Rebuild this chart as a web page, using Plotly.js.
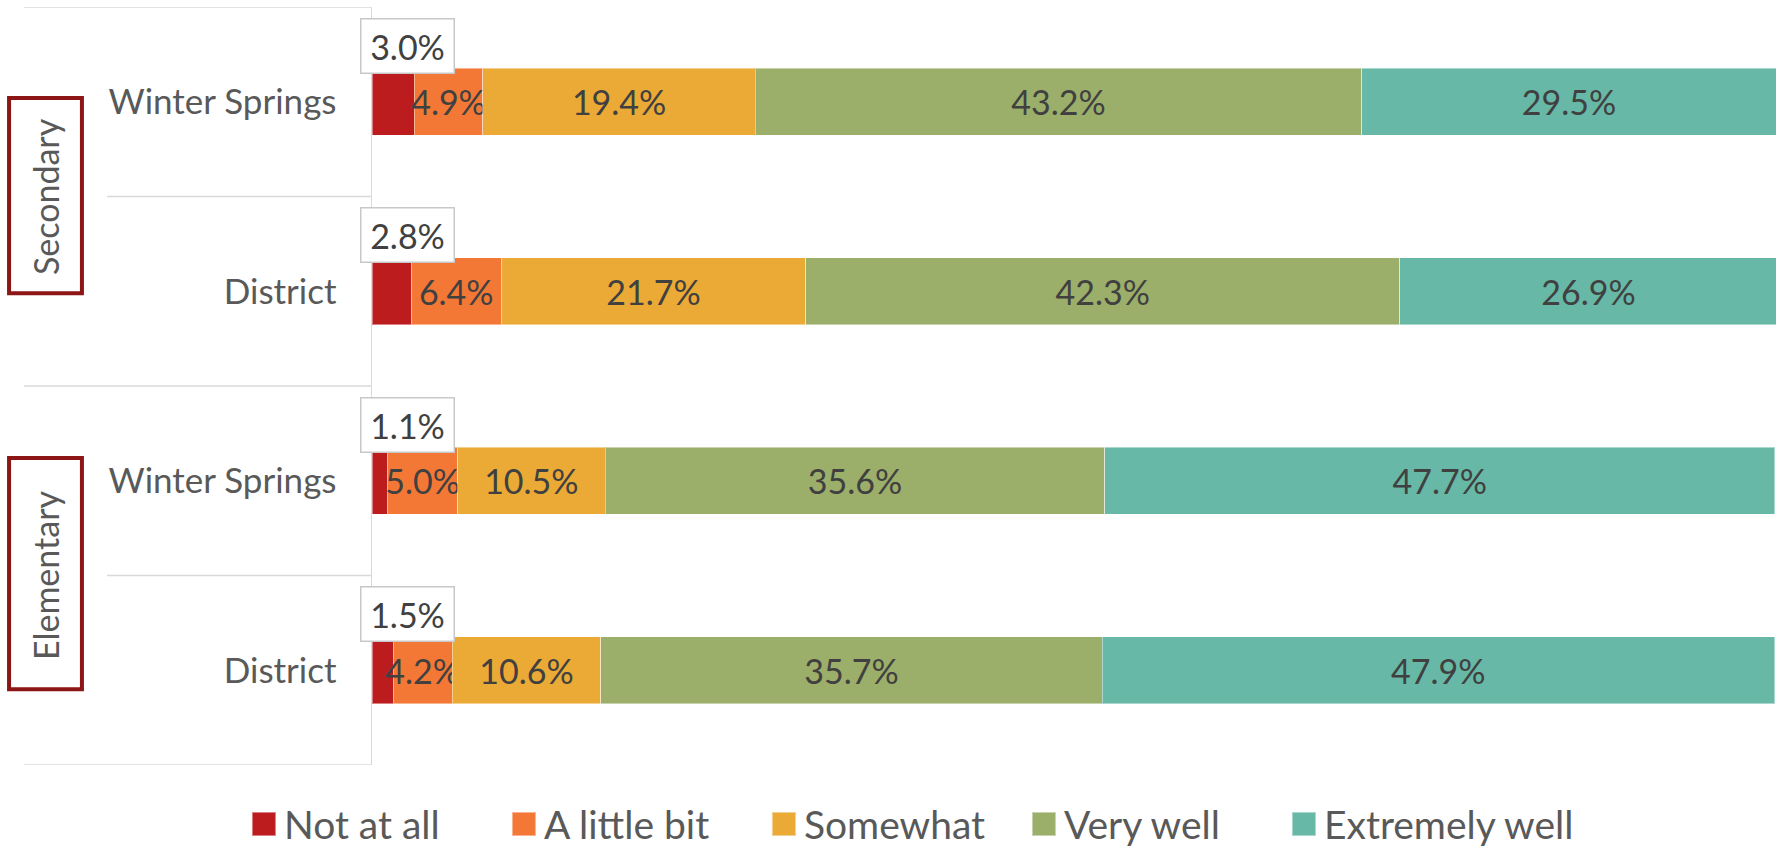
<!DOCTYPE html>
<html>
<head>
<meta charset="utf-8">
<script src="https://cdn.plot.ly/plotly-3.0.1.min.js"></script>
<style>html,body{margin:0;padding:0;background:#fff;}#chart{width:1783px;height:849px;}</style>
</head>
<body>
<div id="chart"></div>
<script>
// Rows top to bottom: Secondary Winter Springs, Secondary District, Elementary Winter Springs, Elementary District
const rowLabels = ["Winter Springs", "District", "Winter Springs", "District"];
const rowPos = [3, 2, 1, 0];
const groupLabels = ["Secondary", "Elementary"];
const groupCenters = [2.5, 0.5];

const seriesNames = ["Not at all", "A little bit", "Somewhat", "Very well", "Extremely well"];
const notAtAll = [3.0, 2.8, 1.1, 1.5];
const aLittleBit = [4.9, 6.4, 5.0, 4.2];
const somewhat = [19.4, 21.7, 10.5, 10.6];
const veryWell = [43.2, 42.3, 35.6, 35.7];
const extremelyWell = [29.5, 26.9, 47.7, 47.9];

const colors = ["#BC1C1E", "#F47835", "#EBAA35", "#9CAF6A", "#67B8A6"];
const FONT = "Lato, 'Open Sans', sans-serif";

const seriesValues = [notAtAll, aLittleBit, somewhat, veryWell, extremelyWell];
const traces = seriesValues.map((vals, i) => ({
  type: "bar",
  orientation: "h",
  name: seriesNames[i],
  x: vals,
  y: rowPos,
  marker: {color: colors[i], line: {color: "rgba(255,255,255,0.45)", width: 1}},
  texttemplate: i === 0 ? "" : "%{x:.1f}%",
  textposition: i === 0 ? "none" : "inside",
  insidetextanchor: "middle",
  textangle: 0,
  textfont: {family: FONT, size: 34, color: "#404040"},
  hoverinfo: "skip"
}));

const annotations = [];
// callout labels for the first (small) segment
notAtAll.forEach((v, i) => {
  annotations.push({
    xref: "x", yref: "y", x: 0, y: rowPos[i],
    xanchor: "left", yanchor: "middle",
    xshift: -12, yshift: 56,
    text: v.toFixed(1) + "%",
    showarrow: false,
    width: 90, height: 51,
    bgcolor: "#ffffff", bordercolor: "#c8c8c8", borderwidth: 1.5, borderpad: 1,
    font: {family: FONT, size: 34, color: "#404040"}
  });
});
// group labels (rotated)
groupLabels.forEach((g, i) => {
  annotations.push({
    xref: "paper", yref: "y", x: -0.2325, y: groupCenters[i],
    xanchor: "center", yanchor: "middle",
    text: g, textangle: -90, showarrow: false,
    font: {family: FONT, size: 34, color: "#595959"}
  });
});

const lineStyle = {color: "#d9d9d9", width: 1.5};
const shapes = [
  {type: "line", xref: "paper", yref: "y", x0: -0.2479, x1: 0, y0: 3.5, y1: 3.5, line: lineStyle},
  {type: "line", xref: "paper", yref: "y", x0: -0.1887, x1: 0, y0: 2.5, y1: 2.5, line: lineStyle},
  {type: "line", xref: "paper", yref: "y", x0: -0.2479, x1: 0, y0: 1.5, y1: 1.5, line: lineStyle},
  {type: "line", xref: "paper", yref: "y", x0: -0.1887, x1: 0, y0: 0.5, y1: 0.5, line: lineStyle},
  {type: "line", xref: "paper", yref: "y", x0: -0.2479, x1: 0, y0: -0.5, y1: -0.5, line: lineStyle},
  // group boxes
  {type: "rect", xref: "paper", yref: "y", x0: -0.2585, x1: -0.2066, y0: 1.99, y1: 3.02,
   line: {color: "#8C1515", width: 4}, fillcolor: "rgba(0,0,0,0)"},
  {type: "rect", xref: "paper", yref: "y", x0: -0.2585, x1: -0.2066, y0: -0.10, y1: 1.12,
   line: {color: "#8C1515", width: 4}, fillcolor: "rgba(0,0,0,0)"}
];

const layout = {
  width: 1783, height: 849,
  margin: {l: 372, r: 7, t: 7, b: 84, pad: 0, autoexpand: false},
  paper_bgcolor: "#ffffff", plot_bgcolor: "#ffffff",
  barmode: "stack",
  bargap: 0.646,
  font: {family: FONT, color: "#595959"},
  xaxis: {range: [0, 100], showgrid: false, zeroline: false, showticklabels: false, showline: false, fixedrange: true},
  yaxis: {
    range: [-0.5, 3.5], tickvals: rowPos, ticktext: rowLabels,
    showgrid: false, zeroline: false, showline: true, linecolor: "#d9d9d9", linewidth: 1.5,
    ticks: "", ticklabelstandoff: 27,
    tickfont: {family: FONT, size: 35, color: "#595959"}, fixedrange: true
  },
  uniformtext: {mode: "show", minsize: 34},
  showlegend: true,
  legend: {
    orientation: "h", x: -0.0912, xanchor: "left", y: -0.078, yanchor: "middle",
    font: {family: FONT, size: 39, color: "#595959"},
    entrywidth: 215, entrywidthmode: "pixels",
    traceorder: "normal", itemclick: false, itemdoubleclick: false
  },
  annotations: annotations,
  shapes: shapes
};

Plotly.newPlot("chart", traces, layout, {staticPlot: true, displayModeBar: false}).then(() => {
  document.querySelectorAll("#chart .legendpoints path").forEach(p => {
    const t = p.getAttribute("transform") || "";
    p.setAttribute("transform", t + " scale(2)");
  });
  // let the last legend entry extend past the computed legend box
  document.querySelectorAll("#chart .legend [clip-path]").forEach(e => e.removeAttribute("clip-path"));
});
</script>
</body>
</html>
